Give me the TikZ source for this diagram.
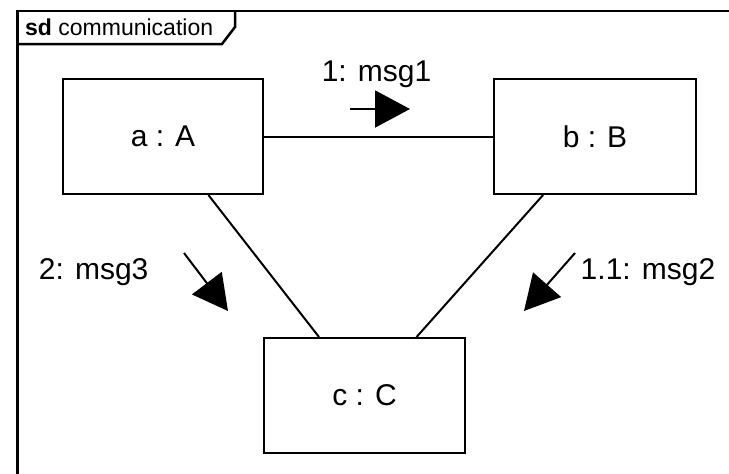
\documentclass[tikz,border=0pt]{standalone}
\usepackage{fontspec}
\setmainfont{Liberation Sans}
\usetikzlibrary{arrows.meta}
\begin{document}
\begin{tikzpicture}[x=1pt,y=-1pt,
  objbox/.style={draw, line width=2pt, minimum height=115pt, inner sep=0pt,
                 font=\fontsize{30}{34}\selectfont},
  msglabel/.style={anchor=base, inner sep=0pt, font=\fontsize{30}{35}\selectfont},
  msgarrow/.style={line width=2pt, -{Triangle[length=35pt,width=37pt]}},
  frameline/.style={line width=2.5pt},
  link/.style={line width=2pt}]
\useasboundingbox (0,0) rectangle (729,474);
\fill[white] (0,0) rectangle (729,474);

% interaction frame with its name tab
\draw[frameline] (17.5,474) -- (17.5,11) -- (729,11);
\draw[frameline] (17.5,44) -- (222,44) -- (235,27) -- (235,11);
\node[anchor=base west, inner sep=0pt, font=\fontsize{23}{27}\selectfont]
  (title) at (25,35) {\textbf{sd} communication};

% objects
\node[objbox, minimum width=200pt] (a) at (163,136.5) {a : A};
\node[objbox, minimum width=202pt] (b) at (595,136.5) {b : B};
\node[objbox, minimum width=201pt] (c) at (364.5,395.5) {c : C};

% links
\draw[link] (a) -- (b);
\draw[link] (a) -- (c);
\draw[link] (b) -- (c);

% messages
\coordinate (m1s) at (350,109);
\coordinate (m1e) at (410,109);
\coordinate (m3s) at (184,253);
\coordinate (m3e) at (228,311);
\coordinate (m2s) at (575,253);
\coordinate (m2e) at (524,311);
\draw[msgarrow] (m1s) -- (m1e);
\draw[msgarrow] (m3s) -- (m3e);
\draw[msgarrow] (m2s) -- (m2e);

\node[msglabel] (l1) at (376.5,81.7) {1: msg1};
\node[msglabel] (l3) at (93.7,279.3) {2: msg3};
\node[msglabel] (l2) at (648,279.3) {1.1: msg2};
\end{tikzpicture}
\end{document}
